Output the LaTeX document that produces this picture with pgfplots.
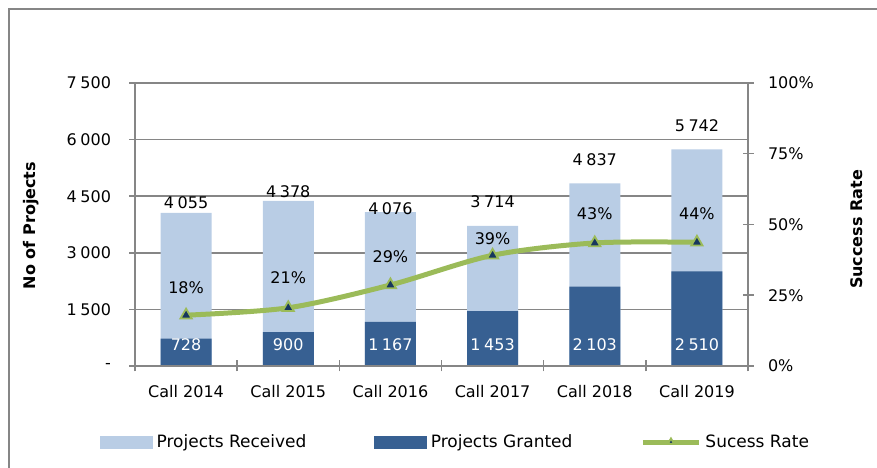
\documentclass[border=0pt]{standalone}
\usepackage{pgfplots}
\pgfplotsset{compat=1.18}
\usepackage{pgfplotstable}
\usepackage{fontspec}
\setmainfont{DejaVu Sans}
\definecolor{recC}{RGB}{185,205,229}
\definecolor{granC}{RGB}{55,96,146}
\definecolor{rateC}{RGB}{155,187,89}
\definecolor{mkC}{RGB}{23,55,94}
\definecolor{gl}{RGB}{134,134,134}

\pgfplotstableread{
x rec gran rate pct dyT dyP
0 4055 728 17.95 18 10 28
1 4378 900 20.56 21 9 30
2 4076 1167 28.63 29 4 28.5
3 3714 1453 39.12 39 24 17
4 4837 2103 43.48 43 24 29.5
5 5742 2510 43.71 44 24 29
}\datatable

\pgfplotsset{
  linelegend/.style={legend image code/.code={\draw[##1, every mark/.append style={scale=0.55}, mark repeat=2, mark phase=2] plot coordinates {(0bp,0bp) (28bp,0bp) (56bp,0bp)};}},
  reclegend/.style={legend image code/.code={\fill[recC] (0bp,-6bp) rectangle (52bp,6bp);}},
  granlegend/.style={legend image code/.code={\fill[granC] (0bp,-6bp) rectangle (52bp,6bp);}},
}

\begin{document}
\begin{tikzpicture}[font=\fontsize{16bp}{19bp}\selectfont]
\pgfplotsset{
  base/.style={
    scale only axis, width=613bp, height=283bp,
    at={(135bp,102bp)}, anchor=south west,
    xmin=-0.5, xmax=5.5,
    axis lines=box,
    /pgf/number format/assume math mode=true,
    /pgf/number format/1000 sep={\hspace{0.22em}},
    tick style={gl, line width=1.5bp},
    major tick length=11bp,
    tick align=center,
    axis line style={gl, line width=1.5bp},
    tick label style={font=\fontsize{16bp}{19bp}\selectfont, black},
    label style={font=\fontsize{16bp}{19bp}\selectfont\bfseries, black},
  },
}
\begin{axis}[base,
  ymin=0, ymax=7500,
  ytick={0,1500,3000,4500,6000,7500},
  yticklabels={-,1\hspace{0.22em}500,3\hspace{0.22em}000,4\hspace{0.22em}500,6\hspace{0.22em}000,7\hspace{0.22em}500},
  ytick pos=left, xtick pos=bottom,
  ymajorgrids, major grid style={gl, line width=1.5bp},
  xtick={-0.5,0.5,1.5,2.5,3.5,4.5,5.5},
  xticklabels={Call 2014,Call 2015,Call 2016,Call 2017,Call 2018,Call 2019},
  x tick label as interval,
  xticklabel style={yshift=-10bp},
  yticklabel style={xshift=-15bp},
  bar width=51bp,
  ylabel={No of Projects},
  ylabel style={at={(rel axis cs:0,0.5)}, anchor=center, yshift=104bp, xshift=-1bp},
]
\addplot[ybar, bar shift=0pt, fill=recC, draw=none,
  nodes near coords, point meta=\thisrow{rec},
  visualization depends on={\thisrow{dyT} \as \dyT},
  nodes near coords style={black, anchor=center, yshift=\dyT bp}]
  table[x=x, y=rec] {\datatable};
\addplot[ybar, bar shift=0pt, fill=granC, draw=none]
  table[x=x, y=gran] {\datatable};
\addplot[draw=none, mark=none,
  nodes near coords, point meta=\thisrow{gran},
  nodes near coords style={white, anchor=center, yshift=21bp}]
  table[x=x, y expr=0] {\datatable};
\end{axis}

\begin{axis}[base,
  ymin=0, ymax=100,
  ytick={0,25,50,75,100},
  yticklabels={0\%,25\%,50\%,75\%,100\%},
  ytick pos=right, yticklabel pos=right,
  xtick=\empty,
  yticklabel style={xshift=11bp},
  ylabel={Success Rate},
  ylabel style={at={(rel axis cs:1,0.5)}, anchor=center, yshift=-109bp, xshift=-5bp},
  legend columns=3,
  legend style={at={(rel axis cs:0.523,-0.2686)}, anchor=center, draw=none, fill=none,
    font=\fontsize{17bp}{20bp}\selectfont,
    /tikz/every even column/.append style={column sep=66bp},
    /tikz/every odd column/.append style={column sep=2bp}},
]
\addlegendimage{reclegend}
\addlegendentry{Projects Received}
\addlegendimage{granlegend}
\addlegendentry{Projects Granted}
\addplot[rateC, line width=5bp, smooth, tension=0.5,
  mark=triangle*,
  mark options={fill=mkC, draw=rateC, line width=1.8bp, solid, mark size=6.5bp},
  nodes near coords={\pgfplotspointmeta\%},
  point meta=explicit symbolic,
  visualization depends on={\thisrow{dyP} \as \dyP},
  nodes near coords style={black, anchor=center, yshift=\dyP bp},
  linelegend]
  table[x=x, y=rate, meta=pct] {\datatable};
\addlegendentry{Sucess Rate}
\end{axis}

\draw[gl, line width=2bp] (9bp,459bp) rectangle (900bp,-20bp);
\pgfresetboundingbox
\path[use as bounding box] (0,0) rectangle (877bp,468bp);
\end{tikzpicture}
\end{document}
